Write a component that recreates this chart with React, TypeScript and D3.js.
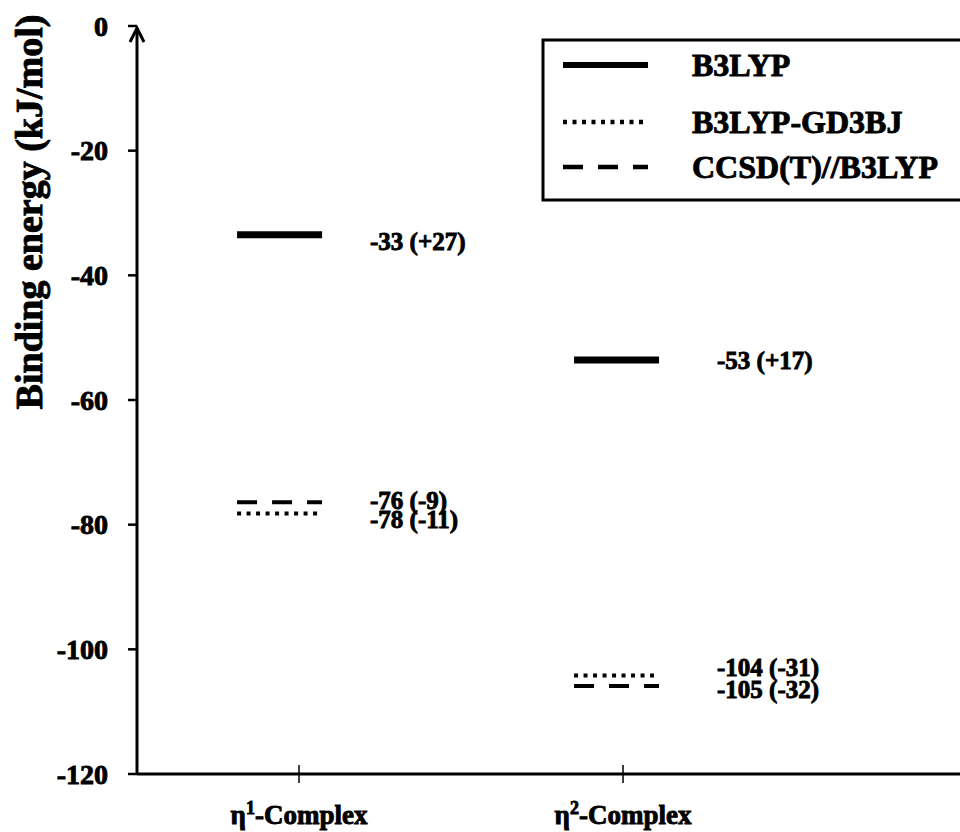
import React, { useEffect, useRef } from "react";
import * as d3 from "d3";

// complexes on the x axis, and where their levels sit
const complexes = ["1", "2"]; // superscript of η
const complexTicks = [1, 2];
const levelPos = [0.94, 1.98];

const methods = ["B3LYP", "B3LYP-GD3BJ", "CCSD(T)//B3LYP"];
const eta1Energy = [-33.5, -78.2, -76.4];
const eta2Energy = [-53.6, -104.2, -105.9];
const eta1Labels = ["-33 (+27)", "-78 (-11)", "-76 (-9)"];
const eta2Labels = ["-53 (+17)", "-104 (-31)", "-105 (-32)"];

const yTicks = [0, -20, -40, -60, -80, -100, -120];

const FONT = "'Liberation Serif', 'Times New Roman', serif";

const lineStyle: { [k: string]: { w: number; dash: string | null } } = {
  "B3LYP": { w: 7, dash: null },
  "B3LYP-GD3BJ": { w: 4, dash: "4,5.5" },
  "CCSD(T)//B3LYP": { w: 4, dash: "20,15" },
};

// small vertical nudges so stacked labels don't collide
const labelNudge = [
  [6, 6, -2],
  [0, -8, 3],
];

export default function App() {
  const ref = useRef<SVGSVGElement>(null);

  useEffect(() => {
    const width = 960;
    const height = 832;
    const svg = d3.select(ref.current);
    svg.selectAll("*").remove();
    svg.attr("width", width).attr("height", height);

    const x = d3.scaleLinear().domain([0.5, 3.04]).range([137, 960]);
    const y = d3.scaleLinear().domain([0, -120]).range([26, 774]);

    const g = svg.append("g")
      .style("font-family", FONT)
      .style("font-weight", "bold");

    // heavier text, closer to the original's Times bold
    const txt = (sel: any) => sel.attr("stroke", "#000").attr("stroke-width", 0.9);

    // y axis
    g.append("line")
      .attr("x1", x(0.5)).attr("x2", x(0.5))
      .attr("y1", y(-120)).attr("y2", y(0) + 2)
      .attr("stroke", "#000").attr("stroke-width", 3);
    g.append("path")
      .attr("d", `M${x(0.5) - 7},${y(0) + 16} L${x(0.5)},${y(0) + 2} L${x(0.5) + 7},${y(0) + 16}`)
      .attr("fill", "none").attr("stroke", "#000").attr("stroke-width", 3);

    yTicks.forEach((t) => {
      g.append("line")
        .attr("x1", x(0.5) - 9).attr("x2", x(0.5))
        .attr("y1", y(t)).attr("y2", y(t))
        .attr("stroke", "#000").attr("stroke-width", 2.5);
      g.append("text")
        .attr("x", x(0.5) - 29).attr("y", y(t))
        .attr("dy", "0.35em")
        .attr("text-anchor", "end")
        .style("font-size", "28px")
        .call(txt)
        .text(t);
    });

    // x axis
    g.append("line")
      .attr("x1", x(0.5)).attr("x2", 960)
      .attr("y1", y(-120)).attr("y2", y(-120))
      .attr("stroke", "#000").attr("stroke-width", 3);
    complexTicks.forEach((c, i) => {
      g.append("line")
        .attr("x1", x(c)).attr("x2", x(c))
        .attr("y1", y(-120) - 9).attr("y2", y(-120) + 9)
        .attr("stroke", "#000").attr("stroke-width", 1.5);
      const t = g.append("text")
        .attr("x", x(c)).attr("y", 824)
        .attr("text-anchor", "middle")
        .style("font-size", "27px")
        .call(txt);
      t.append("tspan").text("η");
      t.append("tspan").attr("dy", -10).style("font-size", "18px").text(complexes[i]);
      t.append("tspan").attr("dy", 10).text("-Complex");
    });

    // y title
    g.append("text")
      .attr("transform", `translate(42, 212) rotate(-90)`)
      .attr("text-anchor", "middle")
      .style("font-size", "38px")
      .call(txt)
      .text("Binding energy (kJ/mol)");

    // energy levels
    const series = [
      { energy: eta1Energy, labels: eta1Labels, labelX: 370 },
      { energy: eta2Energy, labels: eta2Labels, labelX: 717 },
    ];
    series.forEach((s, ci) => {
      const cx = x(levelPos[ci]);
      methods.forEach((m, mi) => {
        const st = lineStyle[m];
        const ln = g.append("line")
          .attr("x1", cx - 42.5).attr("x2", cx + 42.5)
          .attr("y1", y(s.energy[mi])).attr("y2", y(s.energy[mi]))
          .attr("stroke", "#000").attr("stroke-width", st.w);
        if (st.dash) ln.attr("stroke-dasharray", st.dash);
        g.append("text")
          .attr("x", s.labelX)
          .attr("y", y(s.energy[mi]) + labelNudge[ci][mi])
          .attr("dy", "0.35em")
          .style("font-size", "25px")
          .call(txt)
          .text(s.labels[mi]);
      });
    });

    // legend
    const leg = g.append("g");
    leg.append("rect")
      .attr("x", 543).attr("y", 40).attr("width", 440).attr("height", 160)
      .attr("fill", "#fff").attr("stroke", "#000").attr("stroke-width", 3);
    const rowY = [65, 122, 167];
    methods.forEach((m, i) => {
      const st = lineStyle[m];
      const ln = leg.append("line")
        .attr("x1", 563).attr("x2", 648)
        .attr("y1", rowY[i]).attr("y2", rowY[i])
        .attr("stroke", "#000").attr("stroke-width", m === "B3LYP" ? 6 : 4.5);
      if (st.dash) ln.attr("stroke-dasharray", st.dash);
      leg.append("text")
        .attr("x", 692).attr("y", rowY[i])
        .attr("dy", "0.35em")
        .style("font-size", "32px")
        .call(txt)
        .text(m);
    });
  }, []);

  return <svg ref={ref} style={{ display: "block", position: "absolute", left: 0, top: 0 }} />;
}
